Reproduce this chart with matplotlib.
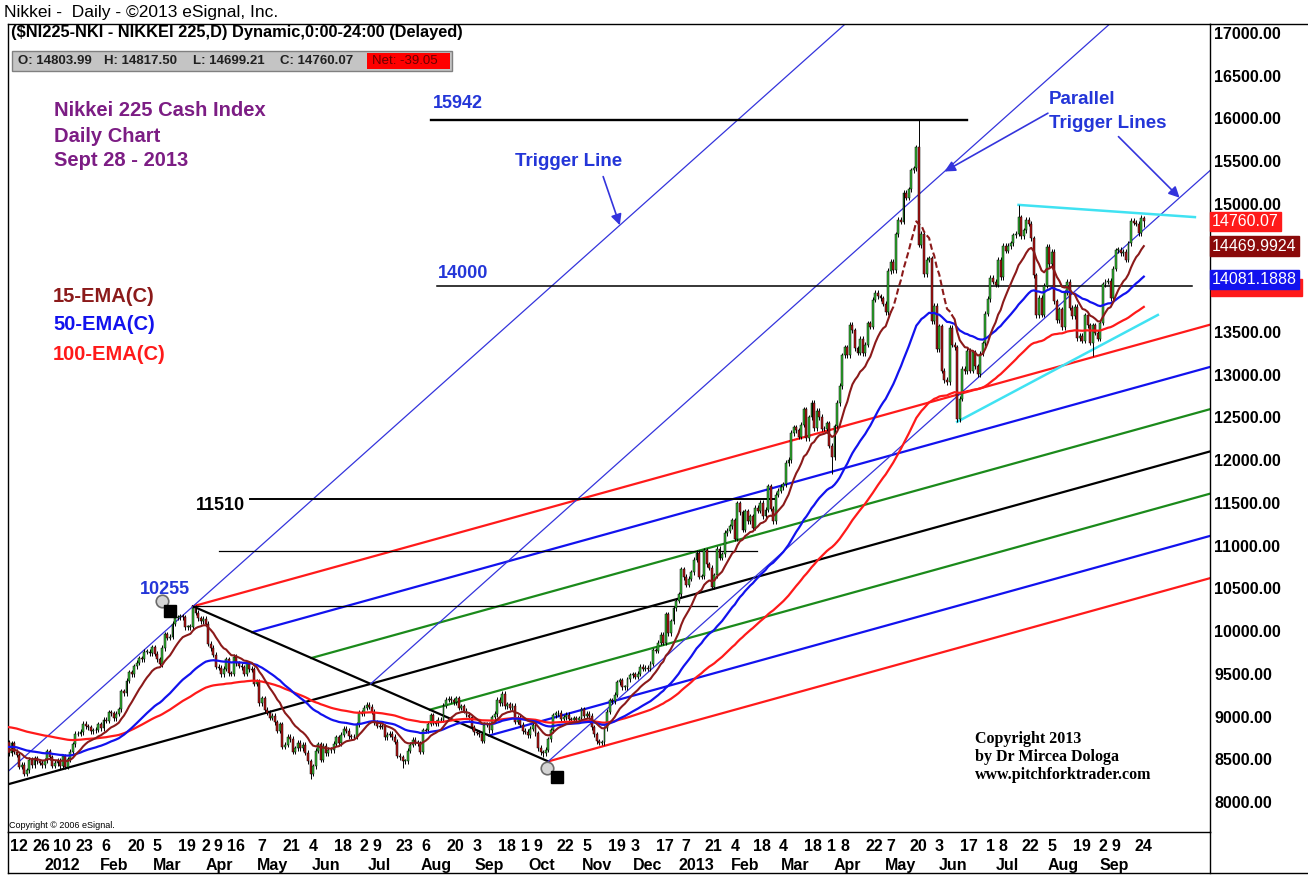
import matplotlib
matplotlib.use('Agg')
import matplotlib.pyplot as plt
import matplotlib.transforms as mtransforms
from matplotlib.lines import Line2D
from matplotlib.patches import Rectangle
import numpy as np
import pandas as pd

plt.rcParams['font.family'] = ['Liberation Sans', 'DejaVu Sans']

# ---------------------------------------------------------------------------
# data: Nikkei 225 daily closes (one list per month)
close_2011_12 = [8664, 8536, 8653, 8553, 8519, 8377, 8401, 8296, 8336, 8459, 8395, 8479, 8440, 8423, 8398, 8455]
close_2012_01 = [8560, 8488, 8390, 8422, 8448, 8385, 8500, 8378, 8466, 8550, 8639, 8766, 8765, 8785, 8883, 8849,
                 8841, 8793, 8802]
close_2012_02 = [8809, 8876, 8831, 8929, 8917, 9015, 9002, 8947, 8999, 9052, 9260, 9238, 9384, 9485, 9463, 9554,
                 9595, 9647, 9633, 9722, 9723]
close_2012_03 = [9707, 9777, 9698, 9637, 9576, 9768, 9929, 9889, 9900, 10050, 10123, 10129, 10141, 10127, 10011,
                 10012, 10018, 10241, 10182, 10114, 10083]
close_2012_04 = [10109, 10050, 9819, 9767, 9688, 9546, 9538, 9458, 9524, 9637, 9470, 9464, 9667, 9588, 9561, 9542,
                 9468, 9590, 9521, 9520]
close_2012_05 = [9350, 9380, 9119, 9181, 9045, 9009, 8953, 8973, 8900, 8801, 8876, 8611, 8633, 8729, 8703, 8556,
                 8593, 8657, 8593, 8633, 8542]
close_2012_06 = [8440, 8295, 8383, 8563, 8639, 8459, 8624, 8536, 8579, 8568, 8647, 8721, 8655, 8752, 8824, 8798,
                 8734, 8731, 8730, 8874, 9006]
close_2012_07 = [9003, 9066, 9104, 9079, 9020, 8896, 8857, 8851, 8849, 8724, 8755, 8766, 8726, 8669, 8508, 8488,
                 8443, 8443, 8566, 8635, 8695]
close_2012_08 = [8666, 8653, 8555, 8804, 8803, 8881, 8978, 8891, 8885, 8929, 8928, 9092, 9163, 9171, 9156, 9131,
                 9178, 9070, 9085, 9033, 8984, 8954, 8839]
close_2012_09 = [8783, 8775, 8757, 8680, 8871, 8869, 8807, 8959, 8995, 9159, 9123, 9232, 9086, 9110, 9069, 9091,
                 8906, 8949, 8870]
close_2012_10 = [8796, 8786, 8746, 8824, 8863, 8769, 8597, 8546, 8534, 8577, 8701, 8806, 8982, 9002, 9010, 8932,
                 8954, 8986, 8933, 8929, 8946, 8928]
close_2012_11 = [8946, 9051, 8975, 8996, 8972, 8837, 8757, 8676, 8661, 8664, 8829, 9024, 9153, 9142, 9222, 9366,
                 9388, 9308, 9308, 9400, 9446]
close_2012_12 = [9458, 9432, 9468, 9545, 9527, 9533, 9525, 9581, 9742, 9737, 9828, 9923, 9828, 10160, 9940, 10080,
                 10230, 10322, 10395]
close_2013_01 = [10688, 10599, 10508, 10578, 10652, 10801, 10879, 10600, 10609, 10913, 10747, 10709, 10486, 10620,
                 10926, 10824, 10866, 11113, 11138]
close_2013_02 = [11191, 11260, 11046, 11463, 11357, 11153, 11369, 11251, 11307, 11173, 11407, 11372, 11468, 11309,
                 11385, 11662, 11398, 11254, 11559]
close_2013_03 = [11606, 11652, 11683, 11932, 11968, 12283, 12349, 12314, 12239, 12381, 12560, 12220, 12468, 12635,
                 12338, 12546, 12471, 12336, 12335, 12397]
close_2013_04 = [12135, 12003, 12362, 12634, 12833, 13192, 13288, 13192, 13549, 13485, 13275, 13221, 13383, 13220,
                 13316, 13568, 13529, 13843, 13926, 13884, 13860]
close_2013_05 = [13799, 13694, 14180, 14285, 14191, 14607, 14782, 14758, 15096, 15037, 15138, 15360, 15381, 15627,
                 14483, 14612, 14143, 14311, 14326, 13589, 13774]
close_2013_06 = [13262, 13533, 13014, 12904, 12877, 13514, 13317, 13289, 12445, 12686, 13033, 13007, 13245, 13014,
                 13230, 13062, 12969, 13213, 13334, 13677]
close_2013_07 = [13852, 14098, 14055, 14018, 14309, 14109, 14472, 14416, 14472, 14506, 14599, 14615, 14808, 14589,
                 14658, 14778, 14731, 14562, 14129, 13661, 13869, 13668]
close_2013_08 = [14005, 14466, 14258, 14401, 13825, 13605, 13731, 13519, 13924, 14050, 13752, 13650, 13758, 13396,
                 13424, 13366, 13660, 13542, 13338, 13542, 13459, 13389]
close_2013_09 = [13572, 14025, 14053, 14065, 13860, 14205, 14423, 14425, 14387, 14404, 14311, 14505, 14766, 14742,
                 14734, 14620, 14799, 14760.07]

first_open = 8640
last_ohlc = [14803.99, 14817.50, 14699.21, 14760.07]
net_change = -39.05

# notable intraday extremes (high, low)
extremes = {'2012-03-27': (10255, None), '2012-06-04': (None, 8239), '2012-07-25': (None, 8365),
            '2012-10-12': (None, 8492), '2013-04-02': (None, 11805), '2013-05-23': (15942, 14458),
            '2013-06-13': (None, 12415), '2013-07-18': (14953, None), '2013-08-28': (None, 13188)}

# Tokyo exchange holidays falling on weekdays
holidays = ['2011-12-23', '2012-01-02', '2012-01-03', '2012-01-09', '2012-03-20', '2012-04-30', '2012-05-03',
            '2012-05-04', '2012-07-16', '2012-09-17', '2012-10-08', '2012-11-23', '2012-12-24', '2012-12-31',
            '2013-01-01', '2013-01-02', '2013-01-03', '2013-01-14', '2013-02-11', '2013-03-20', '2013-04-29',
            '2013-05-03', '2013-05-06', '2013-07-15', '2013-09-16', '2013-09-23']

# EMA values on the bar before the first one shown
ema_seed = {15: 8560, 50: 8610, 100: 8850}
ema_last = {15: 14469.9924, 50: 14081.1888, 100: 13985.0}

# pitchfork pivots (handle is off chart, in bars before the first bar)
pivot_handle = (-7.5, 8105)
pivot_high = ('2012-03-27', 10255)
pivot_low = ('2012-10-16', 8440)

day_ticks = ['2011-12-12', '2011-12-26', '2012-01-10', '2012-01-23', '2012-02-06', '2012-02-20', '2012-03-05',
             '2012-03-19', '2012-04-02', '2012-04-09', '2012-04-16', '2012-05-07', '2012-05-21', '2012-06-04',
             '2012-06-18', '2012-07-02', '2012-07-09', '2012-07-23', '2012-08-06', '2012-08-20', '2012-09-03',
             '2012-09-18', '2012-10-01', '2012-10-09', '2012-10-22', '2012-11-05', '2012-11-19', '2012-12-03',
             '2012-12-17', '2013-01-07', '2013-01-21', '2013-02-04', '2013-02-18', '2013-03-04', '2013-03-18',
             '2013-04-01', '2013-04-08', '2013-04-22', '2013-05-07', '2013-05-20', '2013-06-03', '2013-06-17',
             '2013-07-01', '2013-07-08', '2013-07-22', '2013-08-05', '2013-08-19', '2013-09-02', '2013-09-09',
             '2013-09-24']
# 14500 and 14000 sit under the value tags, so they are not printed
price_ticks = [8000, 8500, 9000, 9500, 10000, 10500, 11000, 11500, 12000, 12500, 13000, 13500,
               15000, 15500, 16000, 16500, 17000]

# ---------------------------------------------------------------------------
dates = pd.bdate_range('2011-12-08', '2013-09-27')
dates = dates[~dates.isin(pd.to_datetime(holidays))]
c = np.array(close_2011_12 + close_2012_01 + close_2012_02 + close_2012_03 + close_2012_04 + close_2012_05 +
             close_2012_06 + close_2012_07 + close_2012_08 + close_2012_09 + close_2012_10 + close_2012_11 +
             close_2012_12 + close_2013_01 + close_2013_02 + close_2013_03 + close_2013_04 + close_2013_05 +
             close_2013_06 + close_2013_07 + close_2013_08 + close_2013_09, dtype=float)
assert len(c) == len(dates)
x = np.arange(len(c))


def bar_of(d):
    return dates.get_loc(pd.Timestamp(d))


o = np.r_[first_open, c[:-1]]
o[-1] = last_ohlc[0]
WICK = 30
hi = np.maximum(o, c) + WICK
lo = np.minimum(o, c) - WICK
hi[-1], lo[-1] = last_ohlc[1], last_ohlc[2]
for d, (h, l) in extremes.items():
    if h is not None:
        hi[bar_of(d)] = h
    if l is not None:
        lo[bar_of(d)] = l


def ema(values, span, seed):
    s = pd.Series(np.r_[seed, values])
    return s.ewm(span=span, adjust=False).mean().values[1:]


ema15 = ema(c, 15, ema_seed[15])
ema50 = ema(c, 50, ema_seed[50])
ema100 = ema(c, 100, ema_seed[100])

# colours
BLUE_TXT = '#2436d8'
PURPLE = '#7c1d84'
MAROON = '#8b1a1a'
RED = '#ff1a1a'
BLUE = '#1212ee'
GREEN = '#1b8a1b'
TRIG = '#3434dc'
CYAN = '#40e2f2'
UP = '#33b833'
DOWN = '#b51515'

W, H = 1308, 877
fig = plt.figure(figsize=(W / 100, H / 100), dpi=100)
L, R, T, B = 8, 1210, 24, 832
ax = fig.add_axes([L / W, 1 - B / H, (R - L) / W, (B - T) / H])
ax.set_xlim(0.63, 470.9)
ax.set_ylim(7614, 17070)


def fx(px):
    return px / W


def fy(py):
    return 1 - py / H


# --- pitchfork
xa, ya = pivot_handle
xb, yb = bar_of(pivot_high[0]), pivot_high[1]
xc, yc = bar_of(pivot_low[0]), pivot_low[1]
xm, ym = (xb + xc) / 2, (yb + yc) / 2
fork_slope = (ym - ya) / (xm - xa)
trig_slope = (yb - ya) / (xb - xa)
x_far = 520
fork_steps = [0, 1 / 6, 2 / 6, 0.5, 4 / 6, 5 / 6, 1]
fork_colors = [RED, BLUE, GREEN, 'black', GREEN, BLUE, RED]
for f, col in zip(fork_steps, fork_colors):
    xs, ys = xb + f * (xc - xb), yb + f * (yc - yb)
    if f == 0.5:
        xs, ys = xa, ya
    ax.plot([xs, x_far], [ys, ys + fork_slope * (x_far - xs)], color=col, lw=1.6, zorder=2)
ax.plot([xb, xc], [yb, yc], color='black', lw=1.6, zorder=2)
for xs, ys in [(xa, ya), (xm, ym), (xc, yc)]:
    ax.plot([xs, x_far], [ys, ys + trig_slope * (x_far - xs)], color=TRIG, lw=0.9, zorder=2)

# --- horizontal levels (level, first bar, last bar, width)
levels = [(15942, 166, 376, 1.7), (14000, 168.5, 464, 1.1), (11510, 95.3, 300.7, 1.4),
          (10903, 83.2, 293.6, 0.9), (10255, 73, 278, 0.9)]
for lev, x0, x1, lw in levels:
    ax.plot([x0, x1], [lev, lev], color='black', lw=lw, zorder=2)

# --- cyan triangle
ax.plot([bar_of('2013-07-18'), 465], [14953, 14810], color=CYAN, lw=1.8, zorder=2)
ax.plot([bar_of('2013-06-13'), 450.5], [12415, 13665], color=CYAN, lw=1.8, zorder=2)

# --- candles
body = c - o
body = np.where(np.abs(body) < 10, np.where(body >= 0, 10, -10), body)
ax.vlines(x, lo, hi, color='black', lw=0.7, zorder=3)
ax.bar(x, body, bottom=o, width=0.75, color=np.where(c >= o, UP, DOWN), edgecolor='black', linewidth=0.35,
       zorder=3)

# --- moving averages
ax.plot(x, ema100, color=RED, lw=1.6, zorder=4)
ax.plot(x, ema50, color=BLUE, lw=1.6, zorder=4)
d0, d1 = 346, 370
ax.plot(x[:d0 + 1], ema15[:d0 + 1], color=MAROON, lw=1.5, zorder=4)
ax.plot(x[d0:d1 + 1], ema15[d0:d1 + 1], color=MAROON, lw=1.5, ls=(0, (3, 1.5)), zorder=4)
ax.plot(x[d1:], ema15[d1:], color=MAROON, lw=1.5, zorder=4)

# --- pivot handle icons
for (px_, py_), (cx, cy), (sx, sy) in [((xb, yb), (-31, 5), (-23, -5)), ((xc, yc), (-1, -7), (9, -16))]:
    tr = mtransforms.offset_copy(ax.transData, fig=fig, x=cx * 0.72, y=cy * 0.72, units='points')
    ax.plot([px_], [py_], 'o', ms=9, mfc='#d4d4d4', mec='#6a6a6a', mew=1.2, transform=tr, zorder=6,
            clip_on=False)
    tr = mtransforms.offset_copy(ax.transData, fig=fig, x=sx * 0.72, y=sy * 0.72, units='points')
    ax.plot([px_], [py_], 's', ms=9, mfc='black', mec='black', transform=tr, zorder=6, clip_on=False)

# --- arrows
arrow = dict(arrowstyle='-|>', color=TRIG, lw=1.2, mutation_scale=16, shrinkA=0, shrinkB=0)
bx = 240
ax.annotate('', xy=(bx, yb + trig_slope * (bx - xb)), xytext=(-12, 35), textcoords='offset points',
            arrowprops=arrow, zorder=6)
bx = 367
ax.annotate('', xy=(bx, ym + trig_slope * (bx - xm)), xytext=(74.5, 42), textcoords='offset points',
            arrowprops=arrow, zorder=6)
bx = 459
ax.annotate('', xy=(bx, yc + trig_slope * (bx - xc)), xytext=(-44, 44), textcoords='offset points',
            arrowprops=arrow, zorder=6)

# --- axes styling
for sp in ax.spines.values():
    sp.set_linewidth(1.0)
ax.yaxis.tick_right()
ax.set_yticks(price_ticks)
ax.set_yticklabels(['%.2f' % v for v in price_ticks], fontsize=11.5, fontweight='bold')
ax.tick_params(axis='y', length=0, pad=3)
ylab_off = mtransforms.ScaledTranslation(0, -3 / 100, fig.dpi_scale_trans)
for lab in ax.get_yticklabels():
    lab.set_transform(lab.get_transform() + ylab_off)

tick_idx = [bar_of(d) for d in day_ticks]
ax.set_xticks(tick_idx)
ax.set_xticklabels([str(pd.Timestamp(d).day) for d in day_ticks], fontsize=11.5, fontweight='bold')
ax.tick_params(axis='x', length=0, pad=5)
xlab_off = mtransforms.ScaledTranslation(-2 / 100, 0, fig.dpi_scale_trans)
for lab in ax.get_xticklabels():
    lab.set_horizontalalignment('left')
    lab.set_transform(lab.get_transform() + xlab_off)

month_names = {1: None, 2: 'Feb', 3: 'Mar', 4: 'Apr', 5: 'May', 6: 'Jun', 7: 'Jul', 8: 'Aug', 9: 'Sep',
               10: 'Oct', 11: 'Nov', 12: 'Dec'}
per = pd.Series(x, index=dates).groupby(dates.to_period('M')).mean()
for p, mid in per.items():
    if p.year == 2011:
        continue
    name = str(p.year) if p.month == 1 else month_names[p.month]
    ax.text(mid - 3, -0.042, name, transform=ax.get_xaxis_transform(), ha='center', va='center',
            fontsize=11.5, fontweight='bold', clip_on=False)

# --- value tags on the price scale
ytr = ax.get_yaxis_transform()
# 100-EMA tag is almost hidden behind the 50-EMA tag: only its red box shows
tag_h = 205
ax.add_patch(Rectangle((1.001, ema_last[100] - tag_h / 2), 0.0755, tag_h, transform=ytr, fc=RED, ec=RED,
                       zorder=5, clip_on=False))
tags = [(c[-1], '%.2f' % c[-1], RED), (ema_last[15], '%.4f' % ema_last[15], '#8a0a0a'),
        (ema_last[50], '%.4f' % ema_last[50], BLUE)]
for val, txt, col in tags:
    ax.text(1.0015, val, txt, transform=ytr, ha='left', va='center', fontsize=11.5,
            color='white', zorder=7, clip_on=False,
            bbox=dict(boxstyle='square,pad=0.14', fc=col, ec=col))

# --- frame pieces around the chart
for (x0, y0, x1, y1) in [(R, T, W, T), (L, B, L, 873), (R, B, R, 873), (L, 873, W, 873)]:
    fig.add_artist(Line2D([fx(x0), fx(x1)], [fy(y0), fy(y1)], color='black', lw=1.0,
                          transform=fig.transFigure))

# --- header
fig.text(fx(4), fy(12), 'Nikkei -  Daily - \u00a92013 eSignal, Inc.', fontsize=12.5, va='center')
fig.text(fx(11), fy(33), '($NI225-NKI - NIKKEI 225,D) Dynamic,0:00-24:00 (Delayed)', fontsize=11.8,
         fontweight='bold', va='center')
fig.add_artist(Rectangle((fx(12), fy(71)), fx(452) - fx(12), fy(51) - fy(71), transform=fig.transFigure,
                         fc='#c4c4c4', ec='#808080', lw=1.0))
fig.add_artist(Rectangle((fx(367), fy(69)), fx(450) - fx(367), fy(53) - fy(69), transform=fig.transFigure,
                         fc='#ff0000', ec='#ff0000', lw=0))
for px_, txt in [(18, 'O: %.2f' % last_ohlc[0]), (104, 'H: %.2f' % last_ohlc[1]),
                 (193, 'L: %.2f' % last_ohlc[2]), (280, 'C: %.2f' % last_ohlc[3])]:
    fig.text(fx(px_), fy(61), txt, fontsize=9.5, va='center', fontweight='bold', color='#202020')
fig.text(fx(372), fy(61), 'Net: %.2f' % net_change, fontsize=9.5, va='center', color='#6a0000')

# --- annotations
big = dict(fontsize=14.5, fontweight='bold', va='center')
fig.text(fx(54), fy(111), 'Nikkei 225 Cash Index', color=PURPLE, **big)
fig.text(fx(54), fy(136), 'Daily Chart', color=PURPLE, **big)
fig.text(fx(54), fy(161), 'Sept 28 - 2013', color=PURPLE, **big)
fig.text(fx(53), fy(296), '15-EMA(C)', color=MAROON, **big)
fig.text(fx(53), fy(324), '50-EMA(C)', color=BLUE, **big)
fig.text(fx(53), fy(354), '100-EMA(C)', color=RED, **big)

mid = dict(fontsize=13.5, fontweight='bold', va='center')
fig.text(fx(515), fy(162), 'Trigger Line', color=BLUE_TXT, **mid)
fig.text(fx(1049), fy(100), 'Parallel', color=BLUE_TXT, **mid)
fig.text(fx(1049), fy(124), 'Trigger Lines', color=BLUE_TXT, **mid)

num = dict(fontsize=13, fontweight='bold', va='center')
fig.text(fx(433), fy(104), '15942', color=BLUE_TXT, **num)
fig.text(fx(438), fy(273), '14000', color=BLUE_TXT, **num)
fig.text(fx(196), fy(505), '11510', color='black', **num)
fig.text(fx(140), fy(590), '10255', color=BLUE_TXT, **num)

serif = dict(fontsize=11.5, fontweight='bold', va='center', family='Liberation Serif')
fig.text(fx(975), fy(739), 'Copyright 2013', **serif)
fig.text(fx(975), fy(757), 'by Dr Mircea Dologa', **serif)
fig.text(fx(975), fy(775), 'www.pitchforktrader.com', **serif)
fig.text(fx(9), fy(825), 'Copyright \u00a9 2006 eSignal.', fontsize=6.5, va='center')

fig.savefig('out.png', dpi=100)
